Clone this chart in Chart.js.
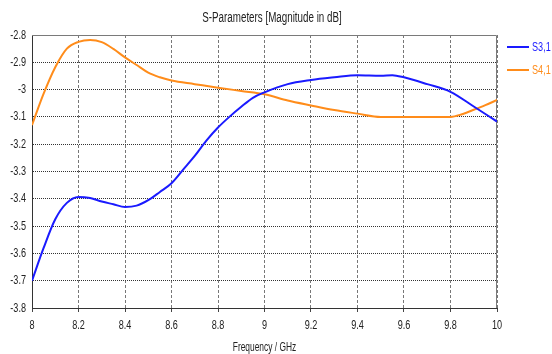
<!DOCTYPE html>
<html>
<head>
<meta charset="utf-8">
<script src="https://cdn.jsdelivr.net/npm/chart.js@4/dist/chart.umd.min.js"></script>
<style>
html,body{margin:0;padding:0;background:#fff;}
#wrap{width:552px;height:354px;}
</style>
</head>
<body>
<div id="wrap"><canvas id="c" width="552" height="354"></canvas></div>
<script>
const FONT = "'Liberation Sans', Arial, sans-serif";
const TEXT_CONDENSE = 0.7;

const titleText = "S-Parameters [Magnitude in dB]";
const xTitle = "Frequency / GHz";
const seriesNames = ["S3,1", "S4,1"];

const freqS31 = [8.0, 8.05, 8.1, 8.15, 8.2, 8.25, 8.3, 8.35, 8.4, 8.45, 8.5, 8.55, 8.6, 8.65, 8.7, 8.75, 8.8, 8.85, 8.9, 8.95, 9.0, 9.1, 9.2, 9.3, 9.4, 9.5, 9.55, 9.6, 9.7, 9.8, 9.9, 10.0];
const valS31 = [-3.70, -3.58, -3.475, -3.415, -3.393, -3.397, -3.41, -3.42, -3.43, -3.425, -3.405, -3.375, -3.343, -3.293, -3.243, -3.187, -3.139, -3.099, -3.063, -3.03, -3.01, -2.98, -2.965, -2.955, -2.947, -2.949, -2.947, -2.955, -2.98, -3.008, -3.062, -3.117];

const freqS41 = [8.0, 8.05, 8.1, 8.15, 8.2, 8.25, 8.3, 8.35, 8.4, 8.45, 8.5, 8.55, 8.6, 8.7, 8.8, 8.9, 9.0, 9.1, 9.2, 9.3, 9.4, 9.5, 9.6, 9.7, 9.8, 9.85, 9.9, 9.95, 10.0];
const valS41 = [-3.13, -3.015, -2.918, -2.85, -2.825, -2.818, -2.826, -2.851, -2.882, -2.91, -2.938, -2.955, -2.967, -2.98, -2.993, -3.005, -3.017, -3.04, -3.058, -3.075, -3.088, -3.10, -3.10, -3.10, -3.10, -3.09, -3.074, -3.057, -3.038];

const colors = ["#1a1aff", "#ff8c1a"];

function pairs(xs, ys){ return xs.map((x,i)=>({x:x, y:ys[i]})); }

// Draw all text horizontally condensed (the reference uses a narrow face).
(function(){
  const proto = CanvasRenderingContext2D.prototype;
  const orig = proto.fillText;
  proto.fillText = function(text, x, y, maxWidth){
    const w = this.measureText(text).width * TEXT_CONDENSE;
    const mw = (maxWidth === undefined || maxWidth === null) ? w : Math.min(w, maxWidth);
    return orig.call(this, text, x, y, mw);
  };
})();

const frameTitleLegend = {
  id: 'frameTitleLegend',
  beforeDatasetsDraw(chart){
    const {ctx, chartArea:a} = chart;
    ctx.save();
    ctx.strokeStyle = '#7a7a7a';
    ctx.lineWidth = 1;
    ctx.beginPath();
    ctx.moveTo(a.left, a.top + 0.5);
    ctx.lineTo(Math.round(a.right) - 0.5, a.top + 0.5);
    ctx.lineTo(Math.round(a.right) - 0.5, a.bottom);
    ctx.stroke();
    ctx.restore();
  },
  afterDraw(chart){
    const {ctx} = chart;
    ctx.save();
    // chart title
    ctx.fillStyle = '#222';
    ctx.font = "14px " + FONT;
    ctx.textBaseline = 'middle';
    ctx.textAlign = 'center';
    ctx.fillText(titleText, 272, 18);
    // legend
    const ys = [47, 70];
    chart.data.datasets.forEach((ds, i) => {
      ctx.strokeStyle = ds.borderColor;
      ctx.lineWidth = 2;
      ctx.beginPath();
      ctx.moveTo(507, ys[i]);
      ctx.lineTo(529, ys[i]);
      ctx.stroke();
      ctx.fillStyle = ds.borderColor;
      ctx.font = "13px " + FONT;
      ctx.textBaseline = 'middle';
      ctx.textAlign = 'left';
      ctx.fillText(ds.label, 532, ys[i]);
    });
    ctx.restore();
  }
};

new Chart(document.getElementById('c'), {
  type: 'line',
  data: {
    datasets: [
      { label: seriesNames[0], data: pairs(freqS31, valS31), borderColor: colors[0], backgroundColor: colors[0], borderWidth: 2, pointRadius: 0, cubicInterpolationMode: 'monotone', fill: false },
      { label: seriesNames[1], data: pairs(freqS41, valS41), borderColor: colors[1], backgroundColor: colors[1], borderWidth: 2, pointRadius: 0, cubicInterpolationMode: 'monotone', fill: false }
    ]
  },
  options: {
    responsive: false,
    animation: false,
    devicePixelRatio: 1,
    layout: { padding: { left: 0, right: 55, top: 35, bottom: 0 } },
    plugins: {
      legend: { display: false },
      tooltip: { enabled: false },
      title: { display: false }
    },
    scales: {
      x: {
        type: 'linear',
        min: 8, max: 10,
        afterFit: s => { s.height = 46; },
        ticks: { stepSize: 0.2, color: '#222', padding: 6, maxRotation: 0, autoSkip: false,
          font: { family: FONT, size: 13 },
          callback: v => String(Math.round(v * 10) / 10) },
        grid: { color: '#777', lineWidth: 1, tickLength: 4, drawTicks: true, tickColor: '#444', tickBorderDash: [3,2] },
        border: { display: true, color: '#333', width: 1, dash: [3, 2] },
        title: { display: true, text: xTitle, color: '#222', font: { family: FONT, size: 12, lineHeight: 1 }, padding: { top: 0, bottom: 0 } }
      },
      y: {
        min: -3.8, max: -2.8,
        afterFit: s => { s.width = 32; },
        ticks: { stepSize: 0.1, color: '#222', padding: 6,
          font: { family: FONT, size: 13 },
          callback: v => String(Math.round(v * 10) / 10) },
        grid: { color: '#333', lineWidth: 1, drawTicks: false },
        border: { display: true, color: '#333', width: 1, dash: [1, 1] }
      }
    }
  },
  plugins: [frameTitleLegend]
});
</script>
</body>
</html>
